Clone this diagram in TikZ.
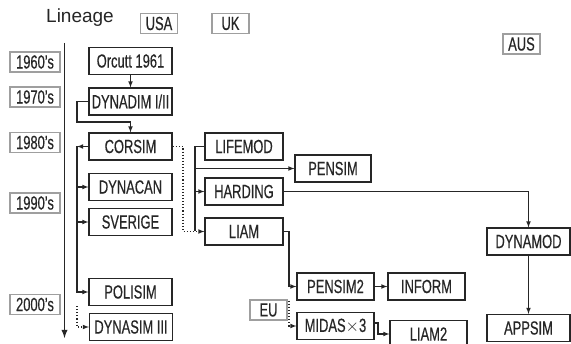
\documentclass[tikz,border=0pt]{standalone}
\usepackage{fontspec}
\setmainfont{Liberation Sans}
\newfontfamily\boxfont[FakeStretch=0.68,FakeBold=0.4]{Liberation Sans}
\usepackage{tikz}
\usetikzlibrary{arrows}
\usetikzlibrary{calc}

\begin{document}
\begin{tikzpicture}
	[x=1pt,y=-1pt,
	 every node/.style={font=\boxfont\fontsize{19}{21}\selectfont,text=black!85,inner sep=0pt},
	 model/.style={draw=black!85,line width=1.1pt,fill=white,minimum height=27pt},
	 tag/.style={draw=gray!75,line width=1.2pt,fill=white,minimum height=20pt,minimum width=37pt},
	 arr/.style={-latex,line width=1.1pt,black!85},
	 line/.style={line width=1.1pt,black!85}]
	\useasboundingbox (0,0) rectangle (571,344);
	\clip (0,0) rectangle (571,344);
	\fill[white] (0,0) rectangle (571,344);
	\node (lineage) at (80,18) {\rmfamily\fontsize{19}{21}\selectfont Lineage};
	\node[tag] (usa) at (159,23.5) {USA};
	\node[tag] (uk) at (230.5,23.5) {UK};
	\node[tag] (aus) at (521.5,44) {AUS};
	\node[tag,minimum width=50pt] (d60) at (35,62) {1960’s};
	\node[tag,minimum width=50pt] (d70) at (35,97) {1970’s};
	\node[tag,minimum width=50pt] (d80) at (35,142.5) {1980’s};
	\node[tag,minimum width=50pt] (d90) at (35,203) {1990’s};
	\node[tag,minimum width=50pt] (d00) at (35,304.5) {2000’s};
	\node[tag] (eu) at (268.5,310) {EU};
	\coordinate (tstart) at (64.5,43);
	\coordinate (tend) at (64.5,338);
	\draw[-latex,line width=1.8pt,black!85] (tstart) -- (tend);

	\node[model,minimum width=83pt] (orcutt) at (130.5,61) {Orcutt 1961};
	\node[model,minimum width=83pt] (dynadim) at (130.5,101.5) {DYNADIM I/II};
	\node[model,minimum width=83pt] (corsim) at (130.5,146.5) {CORSIM};
	\node[model,minimum width=83pt] (dynacan) at (130.5,187) {DYNACAN};
	\node[model,minimum width=83pt] (sverige) at (130.5,222) {SVERIGE};
	\node[model,minimum width=83pt] (polisim) at (130.5,292) {POLISIM};
	\node[model,minimum width=83pt] (dynasim) at (131,327) {DYNASIM III};
	\node[model,minimum width=78pt] (lifemod) at (244,146.5) {LIFEMOD};
	\node[model,minimum width=78pt] (harding) at (244,191.5) {HARDING};
	\node[model,minimum width=78pt] (liam) at (244,231.5) {LIAM};
	\node[model,minimum width=76pt] (pensim) at (333,168.5) {PENSIM};
	\node[model,minimum width=83pt] (dynamod) at (528.5,241.5) {DYNAMOD};
	\node[model,minimum width=83pt] (appsim) at (528.5,328) {APPSIM};
	\node[model,minimum width=77pt] (pensimtwo) at (335.5,286.5) {PENSIM2};
	\node[model,minimum width=77pt] (inform) at (426.5,286.5) {INFORM};
	\node[model,minimum width=77pt] (midas) at (335.5,326) {MIDAS$\times$3};
	\node[model,minimum width=77pt] (liamtwo) at (428.5,334) {LIAM2};

	\coordinate (c1) at (77,122);
	\coordinate (t1) at (77,146.5);
	\coordinate (d1) at (183,146.5);
	\coordinate (t2) at (195,146.5);
	\coordinate (t3) at (289,231.5);
	\coordinate (t4) at (378,323);

	\draw[arr] (orcutt) -- (dynadim);
	\draw[arr] (dynadim.west) -| (c1) -| (corsim.north);
	\draw[arr] (corsim.west) -- (t1);
	\draw[arr] (t1) |- (polisim.west);
	\draw[arr] (t1 |- dynacan) -- (dynacan.west);
	\draw[arr] (t1 |- sverige) -- (sverige.west);
	\draw[arr,dotted] (t1 |- polisim.south) |- (dynasim.west);
	\draw[arr,dotted] (corsim.east) -- (d1) |- (liam.west);
	\draw[line] (lifemod.west) -- (t2) -- (t2 |- liam);
	\draw[arr] (t2 |- pensim) -- (pensim.west);
	\draw[arr] (t2 |- harding) -- (harding.west);
	\draw[arr] (harding.east) -| (dynamod.north);
	\draw[arr] (dynamod) -- (appsim);
	\draw[arr] (liam.east) -- (t3) |- (pensimtwo.west);
	\draw[arr,dotted] (t3 |- pensimtwo.south) |- (midas.west);
	\draw[arr] (pensimtwo) -- (inform);
	\draw[arr] (midas.east |- t4) -- (t4) |- (liamtwo.west);
\end{tikzpicture}
\end{document}
